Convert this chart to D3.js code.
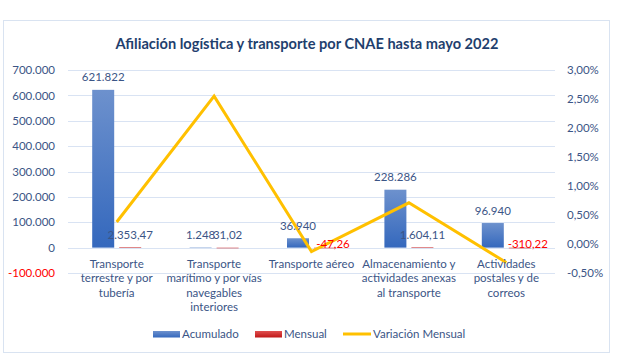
<!DOCTYPE html>
<html lang="es">
<head>
<meta charset="UTF-8">
<title>Afiliación logística y transporte por CNAE</title>
<script src="https://d3js.org/d3.v7.min.js"></script>
<style>
    body { margin: 0; background: #fff; }
    svg text { font-family: Lato, "Open Sans", sans-serif; }
</style>
</head>
<body>
<svg id="chart" width="624" height="362"></svg>
<script>
// Data
const categories = [
    "Transporte\nterrestre y por\ntubería",
    "Transporte\nmarítimo y por vías\nnavegables\ninteriores",
    "Transporte aéreo",
    "Almacenamiento y\nactividades anexas\nal transporte",
    "Actividades\npostales y de\ncorreos"
];
const acumulado = [621822, 1248, 36940, 228286, 96940];
const mensual = [2353.47, 31.02, -47.26, 1604.11, -310.22];
const variacion = [0.38, 2.55, -0.13, 0.71, -0.32]; // percent
const leftTicks = [-100000, 0, 100000, 200000, 300000, 400000, 500000, 600000, 700000];
const rightTicks = [-0.5, 0, 0.5, 1, 1.5, 2, 2.5, 3];

const plot = {left: 68, right: 555, top: 70, bottom: 273};
const textCol = "#3b5586";
const fs = 11.5;

const svg = d3.select('#chart');

// gradients for bars
const defs = svg.append('defs');
function grad(id, c1, c2) {
    const g = defs.append('linearGradient').attr('id', id)
        .attr('x1', 0).attr('y1', 0).attr('x2', 0).attr('y2', 1);
    g.append('stop').attr('offset', '0%').attr('stop-color', c1);
    g.append('stop').attr('offset', '100%').attr('stop-color', c2);
}
grad('gBlue', '#6d91cd', '#3468bd');
grad('gRed', '#e05050', '#c01818');

// chart frame
svg.append('rect')
    .attr('x', 3.5).attr('y', 20.5)
    .attr('width', 606).attr('height', 332)
    .attr('fill', '#fff')
    .attr('stroke', '#d9e3f1');

svg.append('text')
    .attr('x', 307).attr('y', 49)
    .attr('text-anchor', 'middle')
    .attr('font-size', 14.6).attr('font-weight', 'bold')
    .attr('fill', '#1f3f6e')
    .text('Afiliación logística y transporte por CNAE hasta mayo 2022');

// scales
const x = d3.scaleBand().domain(d3.range(categories.length))
    .range([plot.left, plot.right]).padding(0);
const yL = d3.scaleLinear().domain([-100000, 700000]).range([plot.bottom, plot.top]);
const yR = d3.scaleLinear().domain([-0.5, 3]).range([plot.bottom, plot.top]);

const loc = d3.formatLocale({decimal: ',', thousands: '.', grouping: [3], currency: ['', '']});
const fmtInt = v => loc.format(',.0f')(v).replace('−', '-');
const fmtDec = v => loc.format(',.2f')(v).replace('−', '-');

// gridlines
svg.append('g')
    .selectAll('line').data(leftTicks).join('line')
    .attr('x1', plot.left).attr('x2', plot.right)
    .attr('y1', d => Math.round(yL(d)) + 0.5).attr('y2', d => Math.round(yL(d)) + 0.5)
    .attr('stroke', '#d9e3f3').attr('stroke-width', 1);

// left axis
const axL = svg.append('g')
    .attr('transform', `translate(${plot.left},0)`)
    .call(d3.axisLeft(yL).tickValues(leftTicks).tickSize(0).tickPadding(13)
        .tickFormat(fmtInt));
axL.select('.domain').remove();
axL.selectAll('text')
    .attr('font-size', fs)
    .attr('fill', d => d < 0 ? '#ff0000' : textCol);

// right axis
const axR = svg.append('g')
    .attr('transform', `translate(${plot.right},0)`)
    .call(d3.axisRight(yR).tickValues(rightTicks).tickSize(0).tickPadding(12)
        .tickFormat(d => fmtDec(d) + '%'));
axR.select('.domain').remove();
axR.selectAll('text')
    .attr('font-size', fs)
    .attr('fill', textCol);

const barW = 22, gap = 2.5;
const cx = i => x(i) + x.bandwidth() / 2;

// Acumulado bars
svg.append('g').selectAll('rect').data(acumulado).join('rect')
    .attr('x', (d, i) => cx(i) - gap - barW)
    .attr('width', barW)
    .attr('y', d => yL(Math.max(0, d)))
    .attr('height', d => Math.abs(yL(d) - yL(0)))
    .attr('fill', 'url(#gBlue)');

// Mensual bars
svg.append('g').selectAll('rect').data(mensual).join('rect')
    .attr('x', (d, i) => cx(i) + gap)
    .attr('width', barW)
    .attr('y', d => yL(Math.max(0, d)))
    .attr('height', d => Math.max(0.8, Math.abs(yL(d) - yL(0))))
    .attr('fill', '#d9696b');

// Variación line
const line = d3.line().x((d, i) => cx(i)).y(d => yR(d));
svg.append('path')
    .datum(variacion)
    .attr('d', line)
    .attr('fill', 'none')
    .attr('stroke', '#ffc000')
    .attr('stroke-width', 3);

// data labels
svg.append('g').selectAll('text').data(acumulado).join('text')
    .attr('x', (d, i) => cx(i) - gap - barW / 2)
    .attr('y', d => yL(d) - 8.5)
    .attr('text-anchor', 'middle')
    .attr('font-size', fs)
    .attr('fill', textCol)
    .text(fmtInt);

svg.append('g').selectAll('text').data(mensual).join('text')
    .attr('x', (d, i) => cx(i) + gap + barW / 2 + (d < 0 ? 8 : 0))
    .attr('y', d => d < 0 ? yL(d) : yL(d) - 8.5)
    .attr('text-anchor', 'middle')
    .attr('font-size', fs)
    .attr('fill', d => d < 0 ? '#ff0000' : textCol)
    .text(fmtDec);

// category labels
const cat = svg.append('g');
categories.forEach((c, i) => {
    const t = cat.append('text')
        .attr('text-anchor', 'middle')
        .attr('font-size', fs)
        .attr('fill', textCol);
    c.split('\n').forEach((ln, k) => {
        t.append('tspan').attr('x', cx(i)).attr('y', 267.5 + k * 14.6).text(ln);
    });
});

// legend
const lg = svg.append('g').attr('font-size', fs);
lg.append('rect').attr('x', 153).attr('y', 331).attr('width', 27).attr('height', 6.5).attr('fill', 'url(#gBlue)');
lg.append('text').attr('x', 182).attr('y', 338).attr('fill', textCol).text('Acumulado');
lg.append('rect').attr('x', 255).attr('y', 331).attr('width', 27).attr('height', 6.5).attr('fill', 'url(#gRed)');
lg.append('text').attr('x', 284).attr('y', 338).attr('fill', textCol).text('Mensual');
lg.append('line').attr('x1', 343).attr('x2', 371).attr('y1', 334).attr('y2', 334)
    .attr('stroke', '#ffc000').attr('stroke-width', 3);
lg.append('text').attr('x', 373).attr('y', 338).attr('fill', textCol).text('Variación Mensual');
</script>
</body>
</html>
